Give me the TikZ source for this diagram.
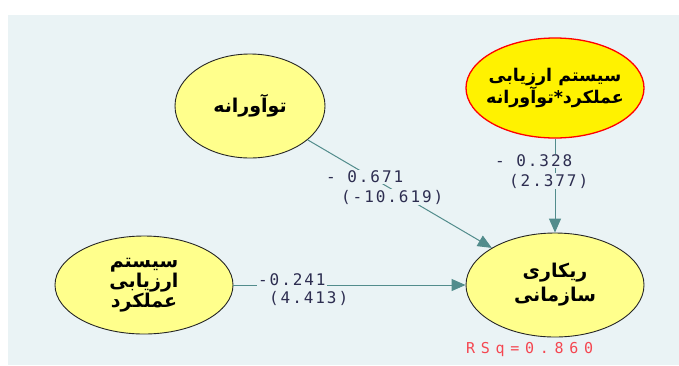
\documentclass[tikz,border=0pt]{standalone}
\usepackage{fontspec}
\usetikzlibrary{shapes.geometric,arrows.meta}
\TeXXeTstate=1
\newfontfamily\fa[Script=Arabic]{DejaVu Sans}
\newfontfamily\lab[LetterSpace=12]{DejaVu Sans Mono}
\newfontfamily\rsqf[LetterSpace=38]{DejaVu Sans Mono}
\definecolor{bgc}{RGB}{234,243,245}
\definecolor{nodefill}{RGB}{255,255,140}
\definecolor{conncol}{RGB}{82,140,140}
\definecolor{labcol}{RGB}{45,45,80}
\definecolor{rsqcol}{RGB}{245,70,80}
\tikzset{
  latent/.style={ellipse, draw=black!85, line width=0.9pt, fill=nodefill, inner sep=0pt, align=center, font=\fa\bfseries\fontsize{19}{19}\selectfont},
  modnode/.style={latent, fill=yellow, draw=red, line width=1.3pt, inner xsep=-22pt, inner ysep=-5pt, font=\fa\bfseries\fontsize{17.5}{18}\selectfont},
  conn/.style={draw=conncol, line width=1pt, -{Triangle[length=14pt,width=12pt]}},
  pathlab/.style={fill=bgc, text=labcol, inner sep=1pt, anchor=west, font=\lab\fontsize{16}{17}\selectfont},
}
\begin{document}
\begin{tikzpicture}[x=1pt,y=-1pt]
\useasboundingbox (0,0) rectangle (679,365);
\fill[bgc] (8,15) rectangle (679,365);

\node[latent, minimum width=150pt, minimum height=104pt] (inn) at (250,106) {\beginR توآورانه\endR};
\node[modnode, minimum width=178pt, minimum height=100pt] (mod) at (555,88) {\beginR سیستم ارزیابی\endR\\\beginR عملکرد*توآورانه\endR};
\node[latent, minimum width=178pt, minimum height=98pt] (sys) at (144,285) {\beginR سیستم\endR\\\beginR ارزیابی\endR\\\beginR عملکرد\endR};
\node[latent, minimum width=178pt, minimum height=104pt] (agi) at (555,285) {\raisebox{-8pt}{\shortstack{\beginR ریکاری\endR\\[2pt]\beginR سازمانی\endR}}};

\draw[conn] (inn) -- (agi);
\draw[conn] (mod) -- (agi);
\draw[conn] (sys) -- (agi);

\node[pathlab] (l1a) at (325,177) {- 0.671};
\node[pathlab] (l1b) at (340,197) {(-10.619)};
\node[pathlab] (l2a) at (494,161) {- 0.328};
\node[pathlab] (l2b) at (508,181) {(2.377)};
\node[pathlab] (l3a) at (257,280) {-0.241};
\node[pathlab] (l3b) at (268,298) {(4.413)};

\node[text=rsqcol, inner sep=0pt, anchor=west, font=\rsqf\fontsize{15}{16}\selectfont] (rsq) at (466,349) {RSq=0.860};
\end{tikzpicture}
\end{document}
